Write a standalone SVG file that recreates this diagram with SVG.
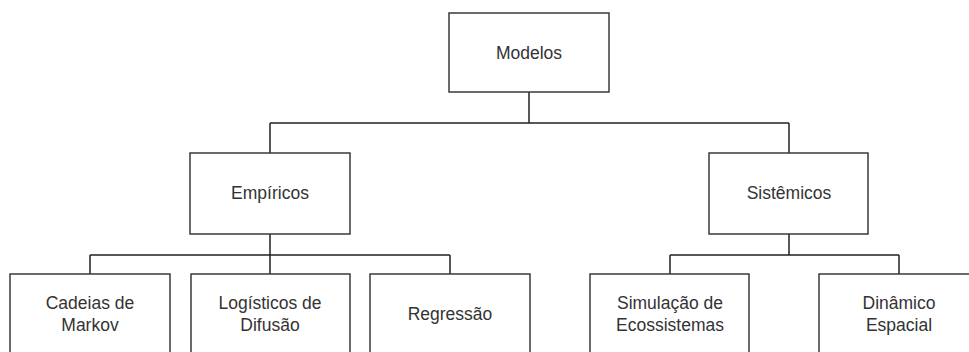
<svg xmlns="http://www.w3.org/2000/svg" width="969" height="352" viewBox="0 0 969 352">
<style>
.box{fill:#fff;stroke:#3a3a3a;stroke-width:1.5}
.lbl{font-family:"Liberation Sans",Arial,sans-serif;font-size:17.5px;fill:#333;text-anchor:middle}
.con{fill:none;stroke:#222;stroke-width:1.5}
</style>
<rect width="969" height="352" fill="#fff"/>
<g id="connectors">
<path class="con" d="M529 92V123M270 123H789M270 123V153M789 123V153"/>
<path class="con" d="M270 234V274M90 255H450M90 255V274M450 255V274"/>
<path class="con" d="M789 234V255M670 255H899M670 255V274M899 255V274"/>
</g>
<g id="modelos"><rect class="box" x="449" y="13" width="160" height="79"/><text class="lbl" x="529" y="59">Modelos</text></g>
<g id="empiricos"><rect class="box" x="190" y="153" width="160" height="81"/><text class="lbl" x="270" y="199">Empíricos</text></g>
<g id="sistemicos"><rect class="box" x="709" y="153" width="159" height="81"/><text class="lbl" x="789" y="199">Sistêmicos</text></g>
<g id="markov"><rect class="box" x="10" y="274" width="160" height="80"/><text class="lbl" x="90" y="309">Cadeias de</text><text class="lbl" x="90" y="331">Markov</text></g>
<g id="logisticos"><rect class="box" x="191" y="274" width="159" height="80"/><text class="lbl" x="270" y="309">Logísticos de</text><text class="lbl" x="270" y="331">Difusão</text></g>
<g id="regressao"><rect class="box" x="370" y="274" width="160" height="80"/><text class="lbl" x="450" y="320">Regressão</text></g>
<g id="simulacao"><rect class="box" x="590" y="274" width="159" height="80"/><text class="lbl" x="670" y="309">Simulação de</text><text class="lbl" x="670" y="331">Ecossistemas</text></g>
<g id="dinamico"><rect class="box" x="819" y="274" width="160" height="80"/><text class="lbl" x="899" y="309">Dinâmico</text><text class="lbl" x="899" y="331">Espacial</text></g>
</svg>
